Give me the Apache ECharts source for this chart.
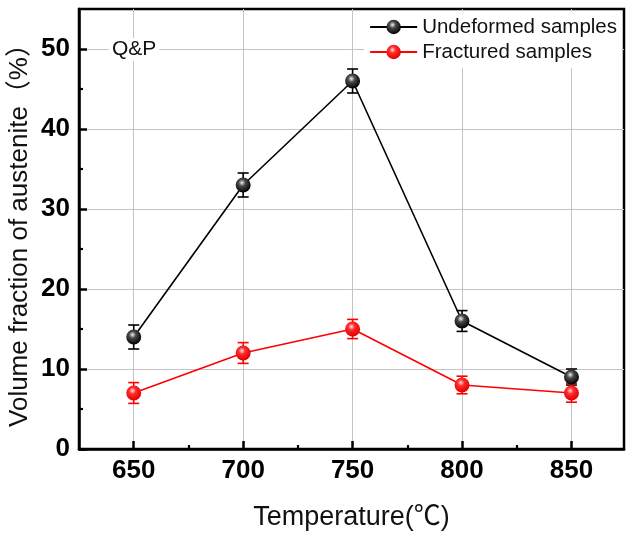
<!DOCTYPE html>
<html>
<head>
<meta charset="utf-8">
<script src="https://cdn.jsdelivr.net/npm/echarts@6/dist/echarts.min.js"></script>
<style>
  html, body { margin: 0; padding: 0; background: #fff; overflow: hidden; }
  #chart { width: 626px; height: 533px; }
</style>
</head>
<body>
<div id="chart"></div>
<script>
// Retained austenite after Q&P treatment at different temperatures
const temperatures = [650, 700, 750, 800, 850];
const undeformed = [14, 33, 46, 16, 9];
const undeformedErr = [1.5, 1.5, 1.5, 1.3, 1.0];
const fractured = [7, 12, 15, 8, 7];
const fracturedErr = [1.3, 1.3, 1.2, 1.1, 1.15];

const xMajorTicks = [650, 700, 750, 800, 850];
const xMinorTicks = [675, 725, 775, 825];
const yMajorTicks = [0, 10, 20, 30, 40, 50];
const yMinorTicks = [5, 15, 25, 35, 45];

const FONT = '"Liberation Sans", Arial, "Noto Sans CJK SC", sans-serif';
const GRID = { left: 79, right: 2, top: 9, bottom: 84, outerBoundsMode: 'none' };
const X_RANGE = [625, 874];
const Y_RANGE = [0, 55];

function pairs(vals) {
  return temperatures.map((t, i) => [t, vals[i]]);
}
function errRows(vals, errs) {
  return temperatures.map((t, i) => [t, vals[i] - errs[i], vals[i] + errs[i]]);
}
function sphere(hi, mid, lo) {
  return {
    type: 'radial', x: 0.42, y: 0.35, r: 0.65,
    colorStops: [
      { offset: 0, color: hi },
      { offset: 0.35, color: mid },
      { offset: 1, color: lo }
    ]
  };
}
function errorSeries(name, rows, color) {
  return {
    name: name,
    type: 'custom',
    xAxisIndex: 0, yAxisIndex: 0,
    z: 1,
    silent: true,
    data: rows,
    renderItem: function (params, api) {
      const x = api.value(0);
      const lo = api.coord([x, api.value(1)]);
      const hi = api.coord([x, api.value(2)]);
      const hw = 5.5;
      const style = { stroke: color, lineWidth: 1.6 };
      return {
        type: 'group',
        children: [
          { type: 'line', shape: { x1: hi[0], y1: hi[1], x2: lo[0], y2: lo[1] }, style: style },
          { type: 'line', shape: { x1: hi[0] - hw, y1: hi[1], x2: hi[0] + hw, y2: hi[1] }, style: style },
          { type: 'line', shape: { x1: lo[0] - hw, y1: lo[1], x2: lo[0] + hw, y2: lo[1] }, style: style }
        ]
      };
    }
  };
}

const chart = echarts.init(document.getElementById('chart'), null, { renderer: 'canvas' });

chart.setOption({
  animation: false,
  backgroundColor: '#fff',
  title: {
    text: 'Q&P',
    left: 109, top: 38,
    padding: [1, 3],
    backgroundColor: '#fff',
    textStyle: { fontFamily: FONT, fontSize: 21, fontWeight: 'normal', color: '#111' }
  },
  legend: {
    orient: 'vertical',
    right: 4, top: 11,
    padding: 5,
    backgroundColor: '#fff',
    itemWidth: 47, itemHeight: 18,
    itemGap: 3,
    data: ['Undeformed samples', 'Fractured samples'],
    textStyle: { fontFamily: FONT, fontSize: 20.5, color: '#111', lineHeight: 22 }
  },
  grid: [
    Object.assign({ show: true, borderColor: '#000', borderWidth: 2.5, backgroundColor: 'transparent' }, GRID),
    Object.assign({ show: false }, GRID)
  ],
  xAxis: [
    {
      type: 'value', gridIndex: 0, position: 'bottom',
      min: X_RANGE[0], max: X_RANGE[1],
      name: 'Temperature(℃)', nameLocation: 'middle', nameGap: 55, nameMoveOverlap: false,
      nameTextStyle: { fontFamily: FONT, fontSize: 27, color: '#111' },
      axisLine: { lineStyle: { color: '#000', width: 2.5 } },
      axisTick: { inside: true, length: 8, customValues: xMajorTicks, lineStyle: { color: '#000', width: 2.5 } },
      axisLabel: { customValues: xMajorTicks, margin: 9, fontFamily: FONT, fontSize: 26, fontWeight: 'bold', color: '#000' },
      splitLine: { show: true, lineStyle: { color: '#c4c4c4', width: 1 } }
    },
    {
      type: 'value', gridIndex: 1, position: 'bottom',
      min: X_RANGE[0], max: X_RANGE[1],
      axisLine: { show: false },
      axisTick: { inside: true, length: 4, customValues: xMinorTicks, lineStyle: { color: '#000', width: 2.2 } },
      axisLabel: { show: false },
      splitLine: { show: false }
    }
  ],
  yAxis: [
    {
      type: 'value', gridIndex: 0, position: 'left',
      min: Y_RANGE[0], max: Y_RANGE[1],
      name: 'Volume fraction of austenite（%）', nameLocation: 'middle', nameGap: 46, nameMoveOverlap: false,
      nameTextStyle: { fontFamily: FONT, fontSize: 26, color: '#111' },
      axisLine: { lineStyle: { color: '#000', width: 2.5 } },
      axisTick: { inside: true, length: 8, customValues: yMajorTicks, lineStyle: { color: '#000', width: 2.5 } },
      axisLabel: { customValues: yMajorTicks, margin: 9, fontFamily: FONT, fontSize: 26, fontWeight: 'bold', color: '#000' },
      splitLine: { show: true, lineStyle: { color: '#c4c4c4', width: 1 } }
    },
    {
      type: 'value', gridIndex: 1, position: 'left',
      min: Y_RANGE[0], max: Y_RANGE[1],
      axisLine: { show: false },
      axisTick: { inside: true, length: 4, customValues: yMinorTicks, lineStyle: { color: '#000', width: 2.2 } },
      axisLabel: { show: false },
      splitLine: { show: false }
    }
  ],
  series: [
    errorSeries('Undeformed samples ±', errRows(undeformed, undeformedErr), '#000'),
    errorSeries('Fractured samples ±', errRows(fractured, fracturedErr), '#ff0000'),
    {
      name: 'Undeformed samples',
      type: 'line',
      xAxisIndex: 0, yAxisIndex: 0,
      z: 3,
      data: pairs(undeformed),
      symbol: 'circle', symbolSize: 15,
      lineStyle: { color: '#000', width: 1.6 },
      itemStyle: { color: sphere('#f0f0f0', '#4a4a4a', '#000'), borderWidth: 0 }
    },
    {
      name: 'Fractured samples',
      type: 'line',
      xAxisIndex: 0, yAxisIndex: 0,
      z: 3,
      data: pairs(fractured),
      symbol: 'circle', symbolSize: 15,
      lineStyle: { color: '#ff0000', width: 1.6 },
      itemStyle: { color: sphere('#ffe0e0', '#ff2a2a', '#e00000'), borderWidth: 0 }
    }
  ]
});
</script>
</body>
</html>
